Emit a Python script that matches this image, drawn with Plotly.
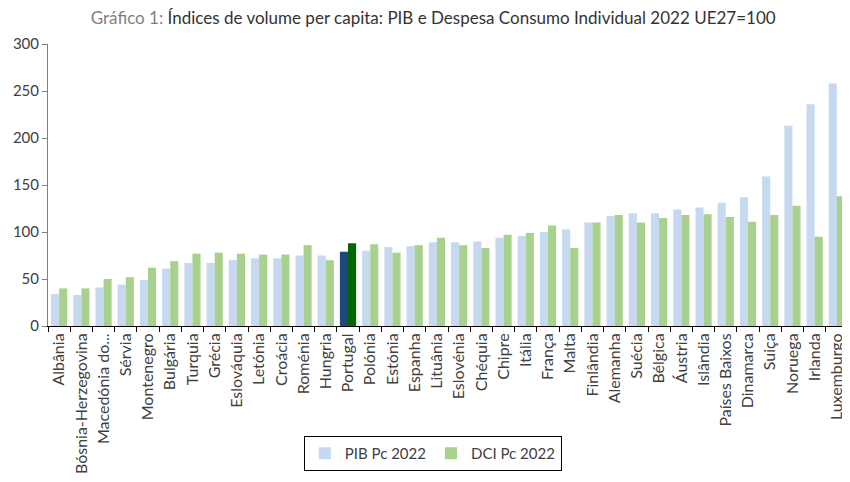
import plotly.graph_objects as go

countries = ["Albânia", "Bósnia-Herzegovina", "Macedónia do...", "Sérvia", "Montenegro",
             "Bulgária", "Turquia", "Grécia", "Eslováquia", "Letónia", "Croácia", "Roménia",
             "Hungria", "Portugal", "Polónia", "Estónia", "Espanha", "Lituânia", "Eslovénia",
             "Chéquia", "Chipre", "Itália", "França", "Malta", "Finlândia", "Alemanha",
             "Suécia", "Bélgica", "Áustria", "Islândia", "Países Baixos", "Dinamarca",
             "Suiça", "Noruega", "Irlanda", "Luxemburgo"]

pib = [34, 33, 41, 44, 49, 61, 67, 67, 70, 72, 72, 75, 75, 79, 80, 84, 85, 89, 89,
       90, 94, 96, 100, 103, 110, 117, 120, 120, 124, 126, 131, 137, 159, 213, 236, 258]
dci = [40, 40, 50, 52, 62, 69, 77, 78, 77, 76, 76, 86, 70, 88, 87, 78, 86, 94, 86,
       83, 97, 99, 107, 83, 110, 118, 110, 115, 118, 119, 116, 111, 118, 128, 95, 138]

highlight = "Portugal"
pib_colors = ["#1f497d" if c == highlight else "#c6d9f1" for c in countries]
dci_colors = ["#006600" if c == highlight else "#a9d18e" for c in countries]

fig = go.Figure()
fig.add_trace(go.Bar(x=countries, y=pib, name="PIB Pc 2022",
                     marker=dict(color=pib_colors, line=dict(width=0))))
fig.add_trace(go.Bar(x=countries, y=dci, name="DCI Pc 2022",
                     marker=dict(color=dci_colors, line=dict(width=0))))

font = "Lato, 'Open Sans', sans-serif"
fig.update_layout(
    width=842, height=474,
    margin=dict(l=40, r=2, t=36, b=156),
    paper_bgcolor="white", plot_bgcolor="white",
    barmode="group", bargap=0.27, bargroupgap=0.0,
    font=dict(family=font, size=13, color="#404040"),
    title=dict(
        text="<span style='color:#7f7f7f'>Gráfico 1:</span> Índices de volume per capita: PIB e Despesa Consumo Individual 2022 UE27=100",
        x=0.505, xanchor="center", y=0.978, yanchor="middle",
        font=dict(family=font, size=17, color="#333333")),
    showlegend=True,
    legend=dict(orientation="h", x=0.481, xanchor="center", y=-0.39, yanchor="top",
                bordercolor="#000000", borderwidth=1, bgcolor="white",
                font=dict(family=font, size=15, color="#404040"),
                itemwidth=30, traceorder="normal"),
)
fig.update_xaxes(type="category", tickangle=-90, showgrid=False,
                 showline=True, linecolor="#000000", linewidth=1,
                 ticks="outside", tickson="boundaries", ticklen=5, tickcolor="#000000",
                 tickfont=dict(family=font, size=16, color="#404040"))
fig.update_yaxes(range=[0, 300], dtick=50, showgrid=False, zeroline=False,
                 showline=True, linecolor="#7f7f7f", linewidth=1,
                 ticks="outside", ticklen=5, tickcolor="#7f7f7f",
                 tickfont=dict(family=font, size=15, color="#404040"))

fig.write_html("out.html")
